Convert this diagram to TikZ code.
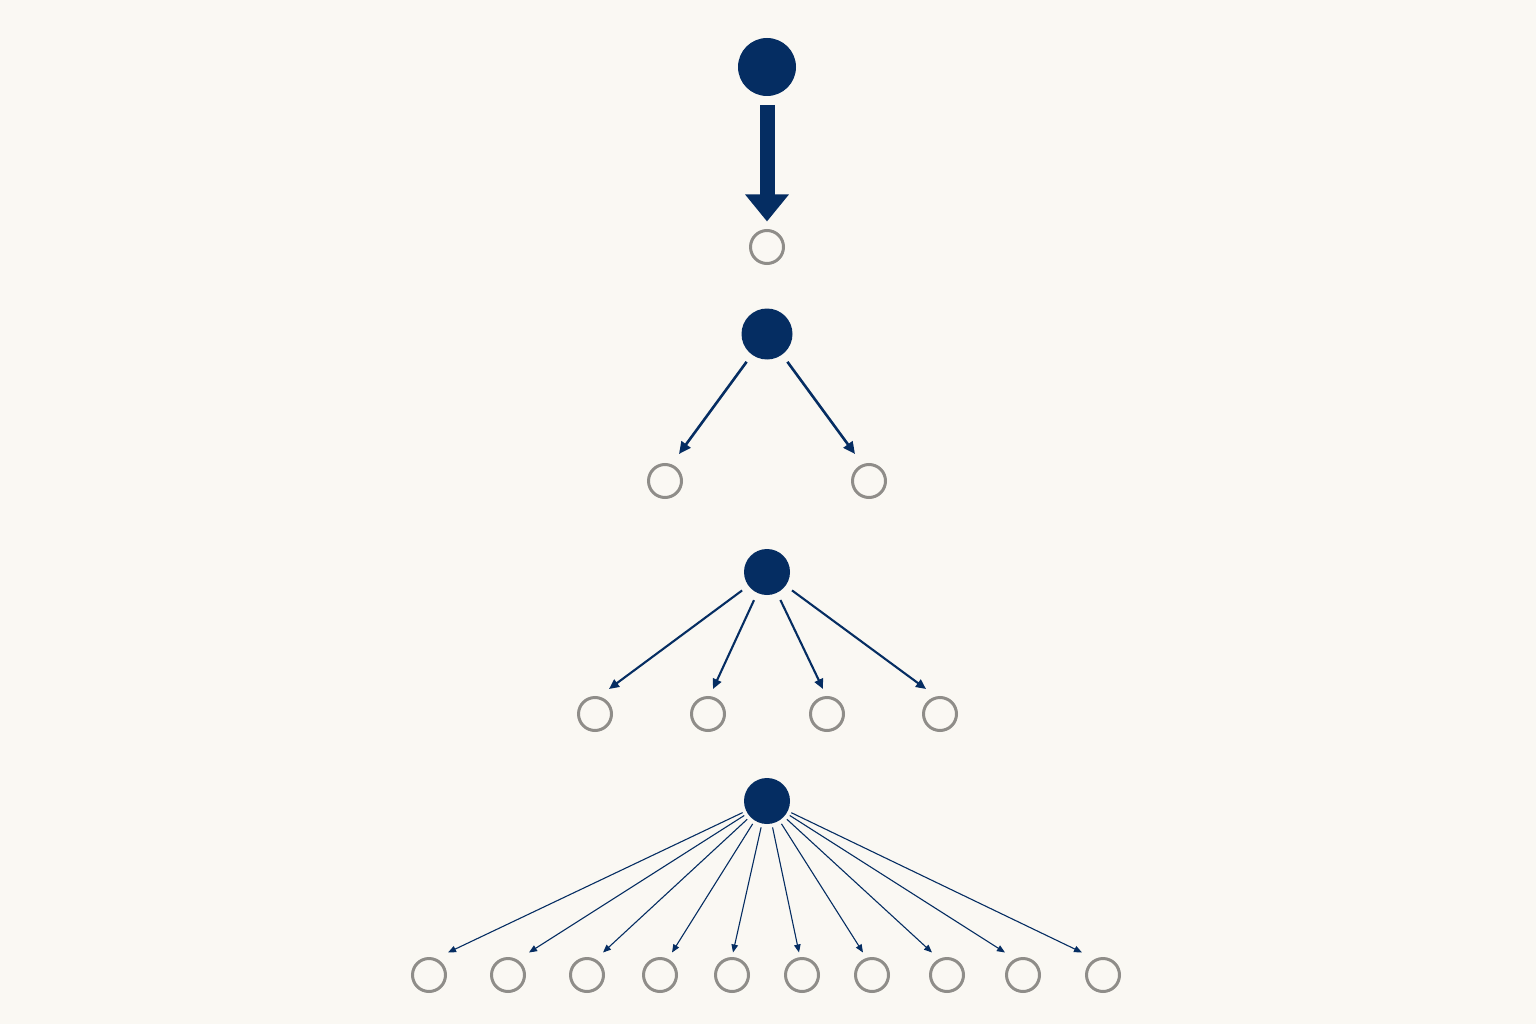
\documentclass[tikz,border=0pt]{standalone}
\usetikzlibrary{arrows.meta,calc}
\definecolor{navy}{RGB}{5,45,98}
\definecolor{ring}{RGB}{143,141,137}
\definecolor{bg}{RGB}{250,248,243}
\begin{document}
\begin{tikzpicture}[x=1pt,y=-1pt,
  parentnode/.style={circle,fill=navy,inner sep=0pt,outer sep=0pt},
  childnode/.style={circle,draw=ring,line width=3pt,minimum size=33pt,inner sep=0pt,outer sep=0pt},
  bigarrow/.style={draw=navy,line width=15pt,-{Triangle[length=27pt,width=42pt]},shorten <=9pt,shorten >=9pt},
  arrowA/.style={draw=navy,line width=2.6pt,-{Triangle[length=12pt,width=11pt]},shorten <=9pt},
  arrowB/.style={draw=navy,line width=2.1pt,-{Triangle[length=10pt,width=9pt]},shorten <=8pt},
  arrowC/.style={draw=navy,line width=1.1pt,-{Triangle[length=8pt,width=6.5pt]},shorten <=4pt}]
\fill[bg] (0,0) rectangle (1536,1024);
\useasboundingbox (0,0) rectangle (1536,1024);
% row 1
\node[parentnode,minimum size=58pt] (p1) at (767,67) {};
\node[childnode] (c1) at (767,247) {};
\draw[bigarrow] (p1) -- (c1);
% row 2
\node[parentnode,minimum size=51pt] (p2) at (767,334) {};
\node[childnode] (c2a) at (665,481) {};
\node[childnode] (c2b) at (869,481) {};
\draw[arrowA] (p2) -- ($(c2a.north)+(14,-10.5)$);
\draw[arrowA] (p2) -- ($(c2b.north)+(-14,-10.5)$);
% row 3
\node[parentnode,minimum size=46pt] (p3) at (767,572) {};
\foreach \i/\x/\dx in {a/595/14,b/708/5,c/827/-4,d/940/-14}{
  \node[childnode] (c3\i) at (\x,714) {};
  \draw[arrowB] (p3) -- ($(c3\i.north)+(\dx,-8.5)$);
}
% row 4
\node[parentnode,minimum size=46pt] (p4) at (767,801) {};
\foreach \i/\x/\dx in {a/429/19,b/508/21,c/587/16,d/660/12,e/732/1,f/802/-3,g/872/-9,h/947/-15,i/1023/-18,j/1103/-21}{
  \node[childnode] (c4\i) at (\x,975) {};
  \draw[arrowC] (p4) -- ($(c4\i.north)+(\dx,-6)$);
}
\end{tikzpicture}
\end{document}
